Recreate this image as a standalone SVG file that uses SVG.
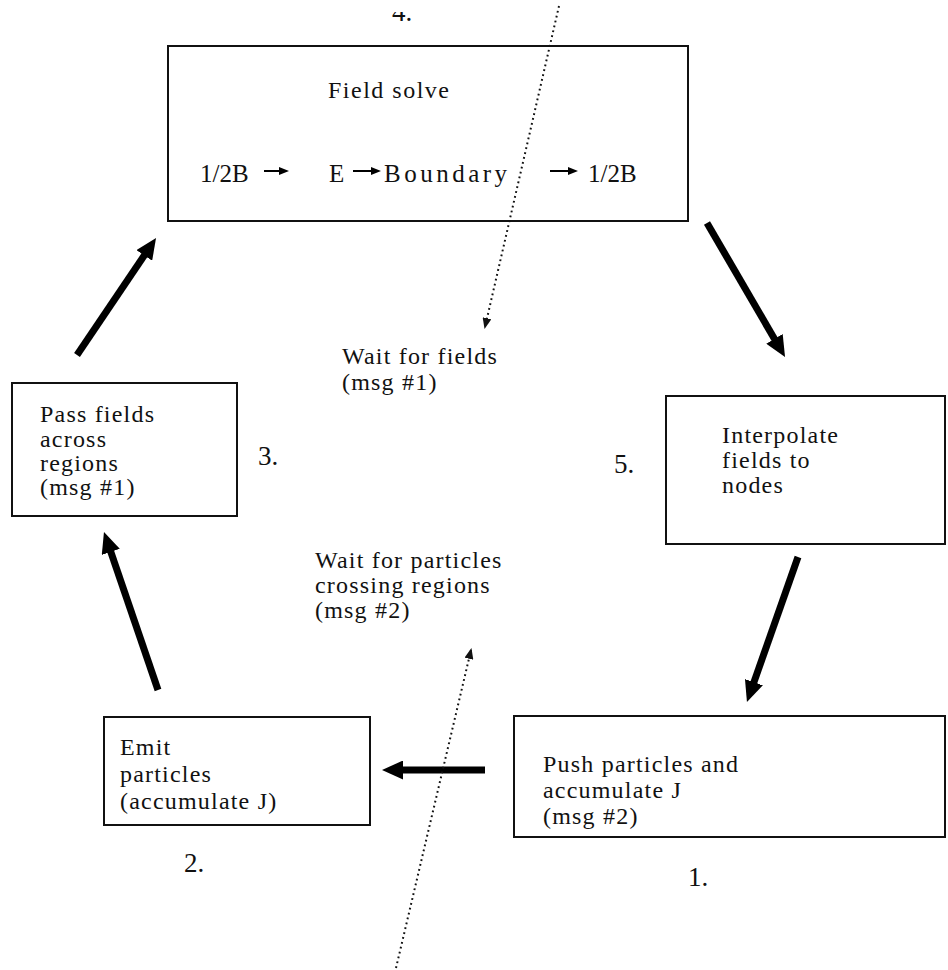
<svg xmlns="http://www.w3.org/2000/svg" width="948" height="970" viewBox="0 0 948 970">
  <style>
    .box { fill: #ffffff; stroke: #111111; stroke-width: 2; }
    .txt { font-family: "Liberation Serif", "Times New Roman", serif; font-size: 24px; letter-spacing: 1.2px; fill: #111111; }
    .row { font-family: "Liberation Serif", "Times New Roman", serif; font-size: 25px; fill: #111111; }
    .num { font-family: "Liberation Serif", "Times New Roman", serif; font-size: 27px; fill: #111111; }
    .flow { stroke: #000000; stroke-width: 7; fill: none; marker-end: url(#bigHead); }
    .sync { stroke: #111111; stroke-width: 2; stroke-dasharray: 1.8 3.2; fill: none; marker-end: url(#smallHead); }
    .step { stroke: #000000; stroke-width: 2; fill: none; marker-end: url(#tinyHead); }
  </style>
  <defs>
    <marker id="bigHead" markerUnits="userSpaceOnUse" viewBox="0 0 21 19" markerWidth="21" markerHeight="19" refX="7" refY="9.5" orient="auto">
      <path d="M0,0 L21,9.5 L0,19 z" fill="#000000"/>
    </marker>
    <marker id="smallHead" markerUnits="userSpaceOnUse" viewBox="0 0 11 9" markerWidth="11" markerHeight="9" refX="9" refY="4.5" orient="auto">
      <path d="M0,0 L11,4.5 L0,9 z" fill="#111111"/>
    </marker>
    <marker id="tinyHead" markerUnits="userSpaceOnUse" viewBox="0 0 10 8" markerWidth="10" markerHeight="8" refX="4" refY="4" orient="auto">
      <path d="M0,0 L10,4 L0,8 z" fill="#000000"/>
    </marker>
    <clipPath id="topCut">
      <rect x="0" y="12" width="948" height="20"/>
    </clipPath>
  </defs>

  <rect x="0" y="0" width="948" height="970" fill="#ffffff"/>

  <!-- step 4 label, cut at the top edge -->
  <text class="num" x="392" y="21" clip-path="url(#topCut)">4.</text>

  <!-- field solve -->
  <g id="field-solve">
    <rect class="box" x="168" y="46" width="520" height="175"/>
    <text class="txt" x="328" y="98" style="letter-spacing:1.5px">Field solve</text>
    <text class="row" x="200" y="182">1/2B</text>
    <line class="step" x1="264" y1="171" x2="283" y2="171"/>
    <text class="row" x="329" y="182">E</text>
    <line class="step" x1="353" y1="171" x2="375" y2="171"/>
    <text class="row" x="384" y="182" style="letter-spacing:3.5px">Boundary</text>
    <line class="step" x1="550" y1="171" x2="572" y2="171"/>
    <text class="row" x="588" y="182">1/2B</text>
  </g>

  <!-- step 3 -->
  <g id="pass-fields">
    <rect class="box" x="12" y="383" width="225" height="133"/>
    <text class="txt" x="40" y="422">Pass fields</text>
    <text class="txt" x="40" y="447">across</text>
    <text class="txt" x="40" y="471">regions</text>
    <text class="txt" x="40" y="495">(msg #1)</text>
  </g>
  <text class="num" x="258" y="465">3.</text>

  <!-- step 5 -->
  <g id="interpolate">
    <rect class="box" x="666" y="396" width="279" height="148"/>
    <text class="txt" x="722" y="443">Interpolate</text>
    <text class="txt" x="722" y="468">fields to</text>
    <text class="txt" x="722" y="493">nodes</text>
  </g>
  <text class="num" x="614" y="473">5.</text>

  <!-- step 2 -->
  <g id="emit">
    <rect class="box" x="104" y="717" width="266" height="108"/>
    <text class="txt" x="120" y="755">Emit</text>
    <text class="txt" x="120" y="782">particles</text>
    <text class="txt" x="120" y="809">(accumulate J)</text>
  </g>
  <text class="num" x="184" y="872">2.</text>

  <!-- step 1 -->
  <g id="push">
    <rect class="box" x="514" y="716" width="431" height="121"/>
    <text class="txt" x="543" y="772">Push particles and</text>
    <text class="txt" x="543" y="798">accumulate J</text>
    <text class="txt" x="543" y="824">(msg #2)</text>
  </g>
  <text class="num" x="688" y="886">1.</text>

  <!-- free labels -->
  <g id="wait-fields">
    <text class="txt" x="342" y="364">Wait for fields</text>
    <text class="txt" x="342" y="390">(msg #1)</text>
  </g>
  <g id="wait-particles">
    <text class="txt" x="315" y="568">Wait for particles</text>
    <text class="txt" x="315" y="593">crossing regions</text>
    <text class="txt" x="315" y="618">(msg #2)</text>
  </g>

  <!-- connectors -->
  <g id="connectors">
    <line class="flow" x1="77" y1="355" x2="148.2" y2="249.6"/>
    <line class="flow" x1="707" y1="223" x2="778" y2="344.9"/>
    <line class="flow" x1="798" y1="557" x2="751.6" y2="688.8"/>
    <line class="flow" x1="485" y1="770" x2="396" y2="770"/>
    <line class="flow" x1="158" y1="690" x2="108.5" y2="545.2"/>
    <line class="sync" x1="559" y1="6" x2="485" y2="327"/>
    <line class="sync" x1="396" y1="968" x2="471" y2="650"/>
  </g>
</svg>
